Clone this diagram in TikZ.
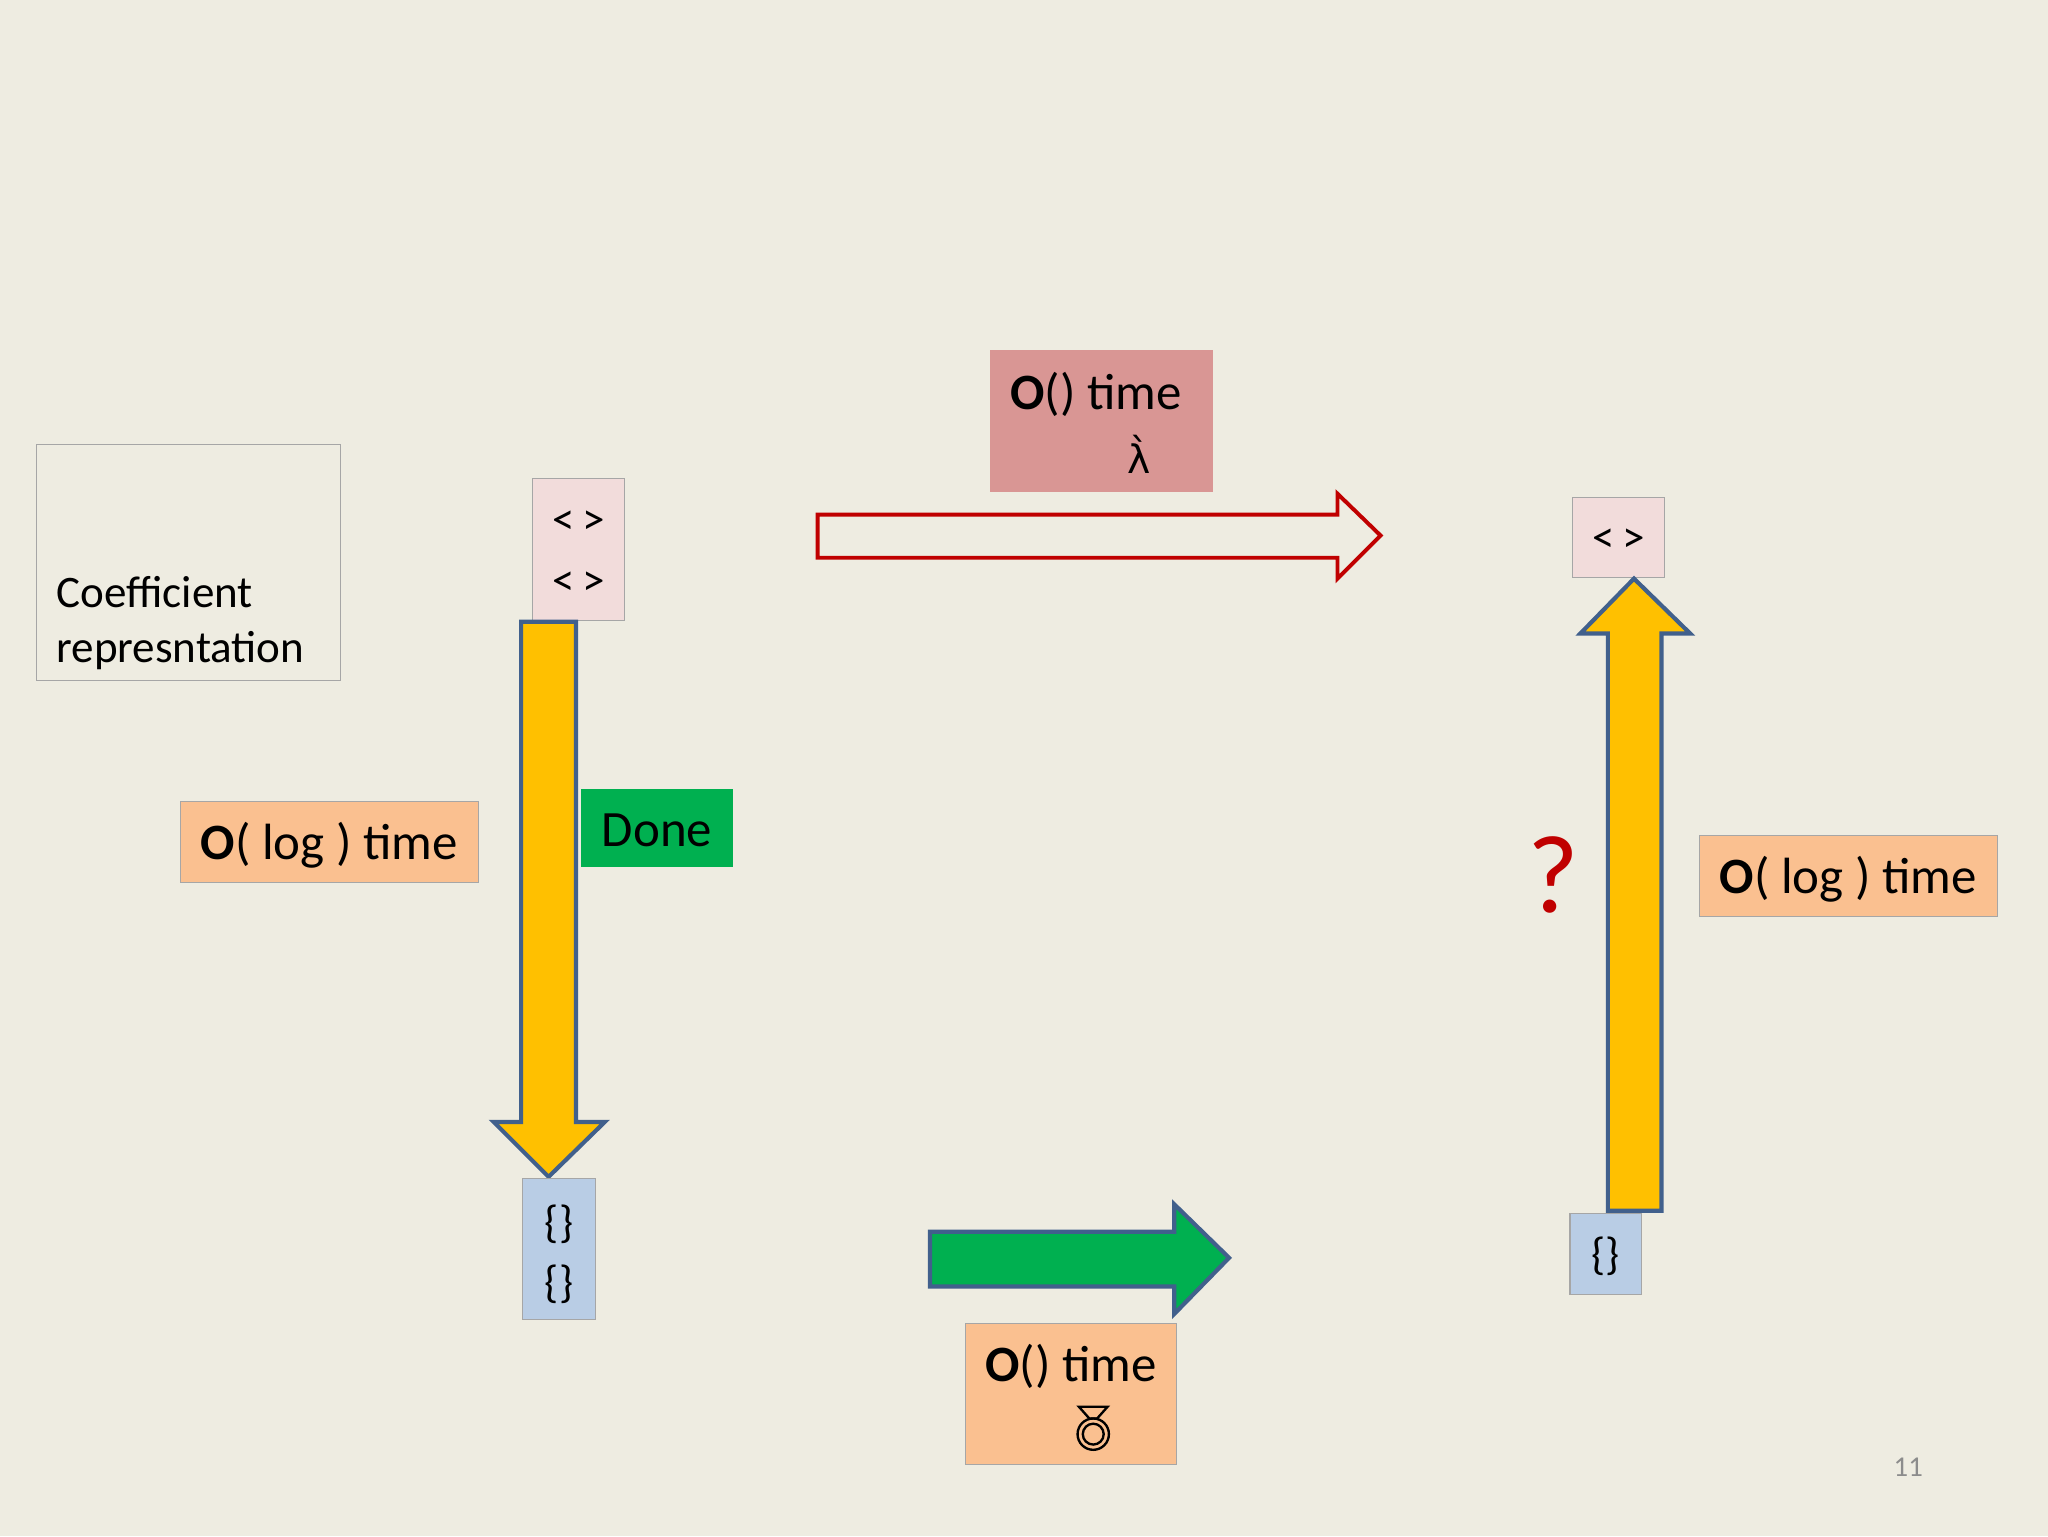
\documentclass[tikz,border=0pt]{standalone}
\usepackage{fontspec}
\setmainfont{Carlito}
\newfontfamily\djv{DejaVu Sans}
\begin{document}
\begin{tikzpicture}[x=1pt,y=-1pt,
  bx/.style={draw=black!35,line width=0.8pt},
  arr/.style={draw=arrblue,line width=3.2pt,line join=miter},
  big/.style={font=\fontsize{39}{44}\selectfont},
  mid/.style={font=\fontsize{34.5}{40}\selectfont}]
\definecolor{bg}{HTML}{EEECE1}
\definecolor{pinkb}{HTML}{F2DCDB}
\definecolor{blueb}{HTML}{B9CDE5}
\definecolor{orangeb}{HTML}{FAC090}
\definecolor{greenb}{HTML}{00B050}
\definecolor{redb}{HTML}{D99694}
\definecolor{yel}{HTML}{FFC000}
\definecolor{arrblue}{HTML}{41608C}
\definecolor{dred}{HTML}{C00000}
\fill[bg] (0,0) rectangle (1568,1176);
\useasboundingbox (0,0) rectangle (1568,1176);
% coefficient box
\draw[bx] (28,340) rectangle (261,521);
\node[mid,anchor=base west,inner sep=0] (c1) at (43,465) {Coefficient};
\node[mid,anchor=base west,inner sep=0] (c2) at (43,507) {represntation};
% left pink box
\draw[bx,fill=pinkb] (408,366) rectangle (478,475);
\node[mid] (p1) at (443,400) {<\,>};
\node[mid] (p2) at (443,447) {<\,>};
% yellow down arrow
\draw[arr,fill=yel] (399,476) -- (441,476) -- (441,859) -- (463,859) -- (420,901) -- (378,859) -- (399,859) -- cycle;
% left blue box
\draw[bx,fill=blueb] (400,902) rectangle (456,1010);
\node[mid] (b1) at (428,937) {\{\}};
\node[mid] (b2) at (428,983) {\{\}};
% left orange
\draw[bx,fill=orangeb] (138,614) rectangle (366,676);
\node[big] (o1) at (252,647) {\textbf{O}( log ) time};
% done
\fill[greenb] (445,604) rectangle (561,664);
\node[big] (d) at (503,636) {Done};
% red hollow arrow
\draw[dred,line width=3pt,line join=miter] (626,394) -- (1024,394) -- (1024,378) -- (1057,410) -- (1024,443) -- (1024,427) -- (626,427) -- cycle;
% red box
\fill[redb] (758,268) rectangle (929,377);
\node[big] (r1) at (839,302) {\textbf{O}() time};
\node[font=\djv\fontsize{30}{36}\selectfont] (r2) at (872,348) {λ̀};
% right pink box
\draw[bx,fill=pinkb] (1204,381) rectangle (1274,442);
\node[mid] (p3) at (1239,414) {<\,>};
% yellow up arrow
\draw[arr,fill=yel] (1231,927) -- (1272,927) -- (1272,485) -- (1294,485) -- (1251,443) -- (1210,485) -- (1231,485) -- cycle;
% right blue box
\draw[bx,fill=blueb] (1202,929) rectangle (1257,991);
\node[mid] (b3) at (1229,962) {\{\}};
% question
\node[font=\fontsize{85}{95}\selectfont,text=dred] (q) at (1189,670) {?};
% right orange
\draw[bx,fill=orangeb] (1301,640) rectangle (1529,702);
\node[big] (o2) at (1415,673) {\textbf{O}( log ) time};
% green arrow
\draw[arr,fill=greenb] (712,943) -- (899,943) -- (899,922) -- (941,963) -- (899,1006) -- (899,985) -- (712,985) -- cycle;
% bottom orange
\draw[bx,fill=orangeb] (739,1013) rectangle (901,1121);
\node[big] (o3) at (820,1046) {\textbf{O}() time};
\begin{scope}[line width=1.8pt]
\draw (826,1077) -- (848,1077) -- (840,1086) -- (834,1086) -- cycle;
\draw (837,1098) circle (12);
\draw (837,1098) circle (8);
\end{scope}
% page number
\node[font=\fontsize{22}{26}\selectfont,text=black!45] (pn) at (1461,1123) {11};
\end{tikzpicture}
\end{document}
